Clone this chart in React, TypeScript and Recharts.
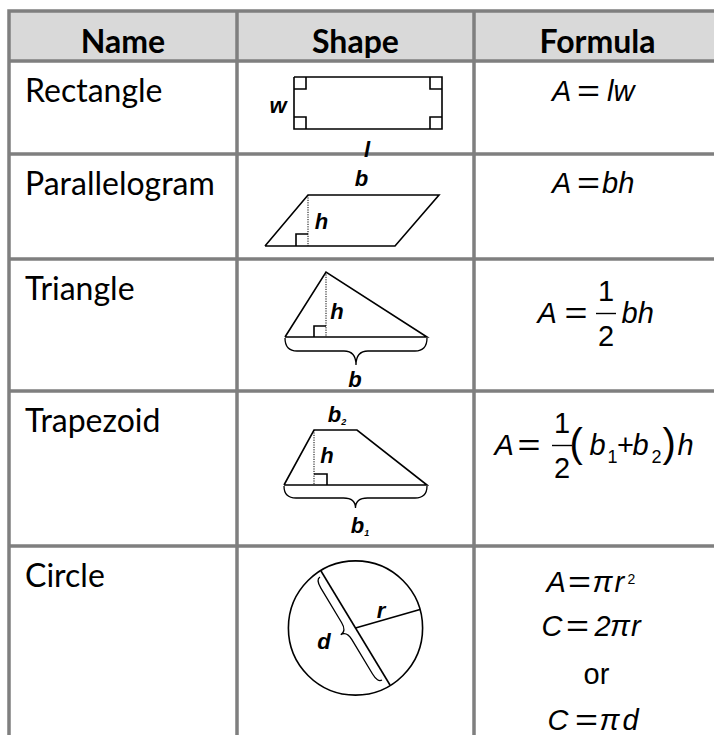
import React from "react";
import { ScatterChart, Scatter, XAxis, YAxis } from "recharts";

const WIDTH = 714;
const HEIGHT = 735;

// table grid, in picture units (x to the right, y downwards)
const colEdges = [9, 237, 474, 721];
const rowEdges = [11, 61, 154, 259, 391, 546];
const tableBottom = 740;

const headers = ["Name", "Shape", "Formula"];
const shapeNames = ["Rectangle", "Parallelogram", "Triangle", "Trapezoid", "Circle"];

type Pt = [number, number];

// shape outlines, measured from the top-left corner of their Shape cell
const rectangle: Pt[] = [[57, 16], [205, 16], [205, 68], [57, 68], [57, 16]];
const rectangleCorners: Pt[][] = [
  [[57, 28], [69, 28], [69, 16]],
  [[57, 56], [69, 56], [69, 68]],
  [[193, 16], [193, 28], [205, 28]],
  [[193, 68], [193, 56], [205, 56]],
];
const parallelogram: Pt[] = [[28, 92], [158, 92], [202, 41], [71, 41], [28, 92]];
const parallelogramCorner: Pt[] = [[59, 92], [59, 80], [71, 80]];
const parallelogramHeight: Pt[] = [[71, 41], [71, 92]];
const triangle: Pt[] = [[48, 78], [190, 78], [89, 13], [48, 78]];
const triangleCorner: Pt[] = [[77, 78], [77, 67], [89, 67]];
const triangleHeight: Pt[] = [[89, 13], [89, 78]];
const triangleBrace: Pt[] = [[48, 79], [190, 79]];
const trapezoid: Pt[] = [[47, 94], [190, 94], [120, 39], [77, 39], [47, 94]];
const trapezoidCorner: Pt[] = [[77, 83], [90, 83], [90, 94]];
const trapezoidHeight: Pt[] = [[77, 39], [77, 94]];
const trapezoidBrace: Pt[] = [[47, 95], [190, 95]];
const circleRadius: Pt[] = [[118.5, 82], [183, 63.5]];
const circleDiameter: Pt[] = [[84, 25], [153, 139]];
const circleBrace: Pt[] = [[83, 31], [145, 134]];

// italic letters on the drawings
const shapeLabels = [
  { row: 0, x: 41, y: 52, text: "w" },
  { row: 0, x: 130, y: 96, text: "l" },
  { row: 1, x: 124.5, y: 32, text: "b" },
  { row: 1, x: 84.5, y: 75, text: "h" },
  { row: 2, x: 100, y: 60, text: "h" },
  { row: 2, x: 118, y: 128, text: "b" },
  { row: 3, x: 100, y: 31, text: "b", sub: "2" },
  { row: 3, x: 90, y: 72, text: "h" },
  { row: 3, x: 123, y: 142, text: "b", sub: "1" },
  { row: 4, x: 144, y: 72, text: "r" },
  { row: 4, x: 87, y: 103, text: "d" },
];

// formula baselines, measured from the top of each row
const formulaBaselines = [40, 39, 64, 64, 46];

const LINE = "#7f7f7f";
const HEADER_FILL = "#d9d9d9";
const SANS = "'Liberation Sans', Arial, sans-serif";
const LATO = "Lato, 'Noto Sans', sans-serif";
const FS = 29;

const noDot = () => <g />;
const cellCenter = (c: number) => (colEdges[c] + colEdges[c + 1]) / 2;
const inShapeCell = (row: number, pts: Pt[]) =>
  pts.map(([x, y]) => ({ x: colEdges[1] + x, y: rowEdges[row + 1] + y }));

const pairs = (stroke: string, width: number) => (props: any) => {
  const pts = props.points || [];
  let d = "";
  for (let i = 0; i + 1 < pts.length; i += 2) d += `M${pts[i].x},${pts[i].y}L${pts[i + 1].x},${pts[i + 1].y}`;
  return <path d={d} stroke={stroke} strokeWidth={width} fill="none" strokeLinecap="square" />;
};

const band = (props: any) => {
  const [a, b] = props.points || [];
  if (!a || !b) return <g />;
  return <rect x={a.x} y={a.y} width={b.x - a.x} height={b.y - a.y} fill={HEADER_FILL} />;
};

const brace = (depth: number, shoulder: number, curl: number) => (props: any) => {
  const [a, b] = props.points || [];
  if (!a || !b) return <g />;
  const dx = b.x - a.x, dy = b.y - a.y;
  const len = Math.hypot(dx, dy);
  const ux = dx / len, uy = dy / len;
  const nx = -uy, ny = ux;
  const at = (s: number, t: number) => `${a.x + ux * s + nx * t},${a.y + uy * s + ny * t}`;
  const m = len / 2;
  const q = Math.min(curl, m / 2);
  const d = `M${at(0, 0)} Q${at(0, shoulder)} ${at(q, shoulder)} L${at(m - q, shoulder)} Q${at(m, shoulder)} ${at(m, depth)} Q${at(m, shoulder)} ${at(m + q, shoulder)} L${at(len - q, shoulder)} Q${at(len, shoulder)} ${at(len, 0)}`;
  return <path d={d} stroke="#000" strokeWidth={1.3} fill="none" />;
};

const circleWithRadius = (props: any) => {
  const [c, rim] = props.points || [];
  if (!c || !rim) return <g />;
  const r = Math.hypot(rim.x - c.x, rim.y - c.y);
  return (
    <g stroke="#000" strokeWidth={1.6} fill="none">
      <circle cx={c.x} cy={c.y} r={r} />
      <line x1={c.x} y1={c.y} x2={rim.x} y2={rim.y} />
    </g>
  );
};

const TextMark = (font: string, size: number, weight: string) => (p: any) => (
  <text x={p.cx} y={p.cy} textAnchor={p.payload.anchor} fontFamily={font} fontSize={size} fontWeight={weight} fill="#000">
    {p.payload.text}
  </text>
);

const LabelMark = (p: any) => (
  <text x={p.cx} y={p.cy} textAnchor="middle" fontFamily={SANS} fontWeight="bold" fontStyle="italic" fontSize={22} fill="#000">
    {p.payload.text}
    {p.payload.sub && <tspan fontSize={9} dy={3}>{p.payload.sub}</tspan>}
  </text>
);

function T({ x, y, children, italic = true, size = FS, anchor = "start", len }: any) {
  return (
    <text
      x={x}
      y={y}
      fontFamily={SANS}
      fontSize={size}
      fontStyle={italic ? "italic" : "normal"}
      textAnchor={anchor}
      textLength={len}
      lengthAdjust={len ? "spacingAndGlyphs" : undefined}
      fill="#000"
    >
      {children}
    </text>
  );
}

// a wide equals sign, x is where its left edge sits
function Eq({ x, y }: { x: number; y: number }) {
  return (
    <text x={x - 2} y={y} textLength={23} lengthAdjust="spacingAndGlyphs" fontFamily={SANS} fontSize={FS} fill="#000">
      =
    </text>
  );
}

function Half({ x, y }: { x: number; y: number }) {
  return (
    <g>
      <line x1={x - 10} x2={x + 10} y1={y - 9.5} y2={y - 9.5} stroke="#000" strokeWidth={1.4} />
      <T x={x} y={y - 22} italic={false} anchor="middle">1</T>
      <T x={x} y={y + 23} italic={false} anchor="middle">2</T>
    </g>
  );
}

// x offsets are from the centre of the Formula column
const FormulaMark = (p: any) => {
  const { cx, cy } = p;
  switch (p.payload.row) {
    case 0:
      return (
        <g>
          <T x={cx - 45.5} y={cy}>A</T>
          <Eq x={cx - 18.5} y={cy} />
          <T x={cx + 9.5} y={cy}>lw</T>
        </g>
      );
    case 1:
      return (
        <g>
          <T x={cx - 45.5} y={cy}>A</T>
          <Eq x={cx - 18.5} y={cy} />
          <T x={cx + 4.5} y={cy}>bh</T>
        </g>
      );
    case 2:
      return (
        <g>
          <T x={cx - 60} y={cy}>A</T>
          <Eq x={cx - 31} y={cy} />
          <Half x={cx + 8.5} y={cy} />
          <T x={cx + 24} y={cy}>bh</T>
        </g>
      );
    case 3:
      return (
        <g>
          <T x={cx - 103} y={cy}>A</T>
          <Eq x={cx - 78} y={cy} />
          <Half x={cx - 35.5} y={cy} />
          <T x={cx - 28} y={cy + 2} italic={false} size={40}>(</T>
          <T x={cx - 8} y={cy}>b</T>
          <T x={cx + 10} y={cy + 8} italic={false} size={18}>1</T>
          <T x={cx + 28} y={cy} italic={false} anchor="middle">+</T>
          <T x={cx + 35} y={cy}>b</T>
          <T x={cx + 54} y={cy + 8} italic={false} size={18}>2</T>
          <T x={cx + 65} y={cy + 2} italic={false} size={40}>)</T>
          <T x={cx + 80} y={cy}>h</T>
        </g>
      );
    default:
      return (
        <g>
          <T x={cx - 51} y={cy}>A</T>
          <Eq x={cx - 27.5} y={cy} />
          <T x={cx - 5} y={cy} len={20}>π</T>
          <T x={cx + 17} y={cy}>r</T>
          <T x={cx + 30} y={cy - 8} italic={false} size={14}>2</T>
          <T x={cx - 56} y={cy + 44}>C</T>
          <Eq x={cx - 29.5} y={cy + 44} />
          <T x={cx - 3} y={cy + 44}>2</T>
          <T x={cx + 12.5} y={cy + 44} len={20}>π</T>
          <T x={cx + 33.5} y={cy + 44}>r</T>
          <T x={cx - 1} y={cy + 92} italic={false} anchor="middle">or</T>
          <T x={cx - 50} y={cy + 138}>C</T>
          <Eq x={cx - 20.5} y={cy + 138} />
          <T x={cx + 2} y={cy + 138} len={20}>π</T>
          <T x={cx + 25} y={cy + 138}>d</T>
        </g>
      );
  }
};

export default function App() {
  const gridPoints = [
    ...colEdges.slice(0, 3).flatMap((x) => [{ x, y: rowEdges[0] }, { x, y: tableBottom }]),
    ...rowEdges.flatMap((y) => [{ x: colEdges[0], y }, { x: colEdges[3], y }]),
  ];
  const headerBand = [{ x: colEdges[0], y: rowEdges[0] }, { x: colEdges[3], y: rowEdges[1] }];
  const headerMarks = headers.map((text, i) => ({ x: cellCenter(i), y: rowEdges[0] + 42, text, anchor: "middle" }));
  const nameMarks = shapeNames.map((text, i) => ({ x: colEdges[0] + 16, y: rowEdges[i + 1] + 41, text, anchor: "start" }));
  const labelMarks = shapeLabels.map((l) => ({ ...inShapeCell(l.row, [[l.x, l.y]])[0], text: l.text, sub: l.sub }));
  const formulaMarks = formulaBaselines.map((b, row) => ({ x: cellCenter(2), y: rowEdges[row + 1] + b, row }));

  const solid: [number, Pt[]][] = [
    [0, rectangle],
    ...rectangleCorners.map((c) => [0, c] as [number, Pt[]]),
    [1, parallelogram],
    [1, parallelogramCorner],
    [2, triangle],
    [2, triangleCorner],
    [3, trapezoid],
    [3, trapezoidCorner],
    [4, circleDiameter],
  ];
  const dotted: [number, Pt[]][] = [
    [1, parallelogramHeight],
    [2, triangleHeight],
    [3, trapezoidHeight],
  ];

  return (
    <div style={{ position: "absolute", left: 0, top: 0, width: WIDTH, height: HEIGHT, background: "#fff" }}>
      <ScatterChart width={WIDTH} height={HEIGHT} margin={{ top: 0, right: 0, bottom: 0, left: 0 }}>
        <XAxis type="number" dataKey="x" domain={[0, WIDTH]} allowDataOverflow hide />
        <YAxis type="number" dataKey="y" domain={[0, HEIGHT]} allowDataOverflow reversed hide />
        <Scatter data={headerBand} shape={noDot} line={band} isAnimationActive={false} />
        <Scatter data={gridPoints} shape={noDot} line={pairs(LINE, 3.5)} isAnimationActive={false} />
        {solid.map(([row, pts], i) => (
          <Scatter
            key={`s${i}`}
            data={inShapeCell(row, pts)}
            shape={noDot}
            line={{ stroke: "#000", strokeWidth: 1.6, strokeLinejoin: "miter" }}
            isAnimationActive={false}
          />
        ))}
        {dotted.map(([row, pts], i) => (
          <Scatter
            key={`d${i}`}
            data={inShapeCell(row, pts)}
            shape={noDot}
            line={{ stroke: "#000", strokeWidth: 1, strokeDasharray: "1.2 1.2" }}
            isAnimationActive={false}
          />
        ))}
        <Scatter data={inShapeCell(2, triangleBrace)} shape={noDot} line={brace(27, 13, 12)} isAnimationActive={false} />
        <Scatter data={inShapeCell(3, trapezoidBrace)} shape={noDot} line={brace(22, 12, 12)} isAnimationActive={false} />
        <Scatter data={inShapeCell(4, circleRadius)} shape={noDot} line={circleWithRadius} isAnimationActive={false} />
        <Scatter data={inShapeCell(4, circleBrace)} shape={noDot} line={brace(12, 5, 10)} isAnimationActive={false} />
        <Scatter data={headerMarks} shape={TextMark(LATO, 32, "bold")} isAnimationActive={false} />
        <Scatter data={nameMarks} shape={TextMark(LATO, 32, "normal")} isAnimationActive={false} />
        <Scatter data={labelMarks} shape={LabelMark} isAnimationActive={false} />
        <Scatter data={formulaMarks} shape={FormulaMark} isAnimationActive={false} />
      </ScatterChart>
    </div>
  );
}
